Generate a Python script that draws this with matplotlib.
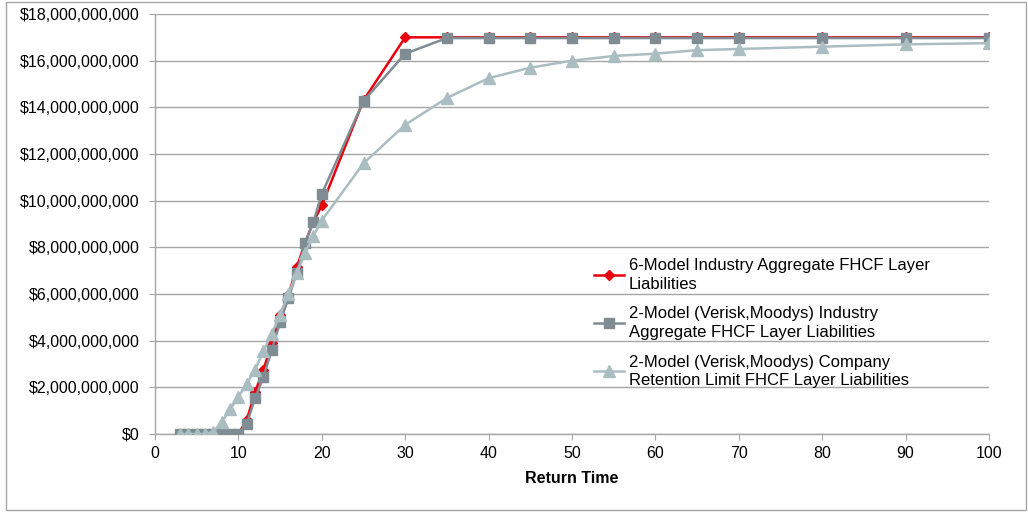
import matplotlib
matplotlib.use("Agg")
import matplotlib.pyplot as plt
from matplotlib.ticker import FuncFormatter, MultipleLocator
from matplotlib.patches import Rectangle

plt.rcParams['font.family'] = ['Liberation Sans', 'DejaVu Sans']

return_time = [3, 4, 5, 6, 7, 8, 9, 10, 11, 12, 13, 14, 15, 16, 17, 18, 19, 20,
               25, 30, 35, 40, 45, 50, 55, 60, 65, 70, 80, 90, 100]

six_model = [0, 0, 0, 0, 0, 0, 0, 0, 0.6, 1.8, 2.75, 3.9, 5.1, 5.95, 7.15, 8.2, 9.1, 9.8,
             14.3, 17.0, 17.0, 17.0, 17.0, 17.0, 17.0, 17.0, 17.0, 17.0, 17.0, 17.0, 17.0]

two_model_industry = [0, 0, 0, 0, 0, 0, 0, 0, 0.43, 1.54, 2.44, 3.6, 4.8, 5.83, 6.9, 8.19, 9.09, 10.29,
                      14.27, 16.3, 16.97, 16.97, 16.97, 16.97, 16.97, 16.97, 16.97, 16.97, 16.97, 16.97, 16.97]

two_model_company = [0, 0, 0, 0, 0.1, 0.5, 1.05, 1.6, 2.15, 2.75, 3.55, 4.3, 5.1, 6.0, 6.9, 7.75, 8.5, 9.15,
                     11.6, 13.25, 14.4, 15.25, 15.7, 16.0, 16.2, 16.3, 16.45, 16.5, 16.6, 16.7, 16.75]

labels = ["6-Model Industry Aggregate FHCF Layer\nLiabilities",
          "2-Model (Verisk,Moodys) Industry\nAggregate FHCF Layer Liabilities",
          "2-Model (Verisk,Moodys) Company\nRetention Limit FHCF Layer Liabilities"]

scale = 1e9
fig = plt.figure(figsize=(10.28, 5.13), dpi=100)
ax = fig.add_axes([0.1508, 0.154, 0.8112, 0.8187])

ax.plot(return_time, [v * scale for v in six_model], color='#E8000F', lw=1.8,
        marker='D', markersize=5.5, label=labels[0], zorder=3)
ax.plot(return_time, [v * scale for v in two_model_industry], color='#7F8C93', lw=1.8,
        marker='s', markersize=7.5, label=labels[1], zorder=4)
ax.plot(return_time, [v * scale for v in two_model_company], color='#AABDC1', lw=1.8,
        marker='^', markersize=8, label=labels[2], zorder=5)

ax.set_xlim(0, 100)
ax.set_ylim(0, 18e9)
ax.xaxis.set_major_locator(MultipleLocator(10))
ax.yaxis.set_major_locator(MultipleLocator(2e9))
ax.yaxis.set_major_formatter(FuncFormatter(lambda v, p: "${:,.0f}".format(v)))
ax.grid(axis='y', color='#A6A6A6', lw=1.0)
ax.set_axisbelow(True)
for s in ['top', 'right']:
    ax.spines[s].set_visible(False)
for s in ['left', 'bottom']:
    ax.spines[s].set_color('#A6A6A6')
    ax.spines[s].set_linewidth(1.0)
ax.tick_params(axis='both', colors='#A6A6A6', labelcolor='black', labelsize=11.5, length=4)
ax.tick_params(axis='y', pad=7)
ax.tick_params(axis='x', pad=5)
ax.set_xlabel("Return Time", fontsize=11.5, fontweight='bold', labelpad=7)

leg = ax.legend(loc='upper left', bbox_to_anchor=(0.518, 0.435), frameon=False,
                fontsize=12, handlelength=1.8, handletextpad=0.3, labelspacing=0.88,
                borderaxespad=0)
for t in leg.get_texts():
    t.set_linespacing(1.3)

fig.patches.append(Rectangle((0.006, 0.006), 0.992, 0.99, transform=fig.transFigure,
                             fill=False, edgecolor='#A6A6A6', lw=1.0))

fig.savefig("out.png", dpi=100)
